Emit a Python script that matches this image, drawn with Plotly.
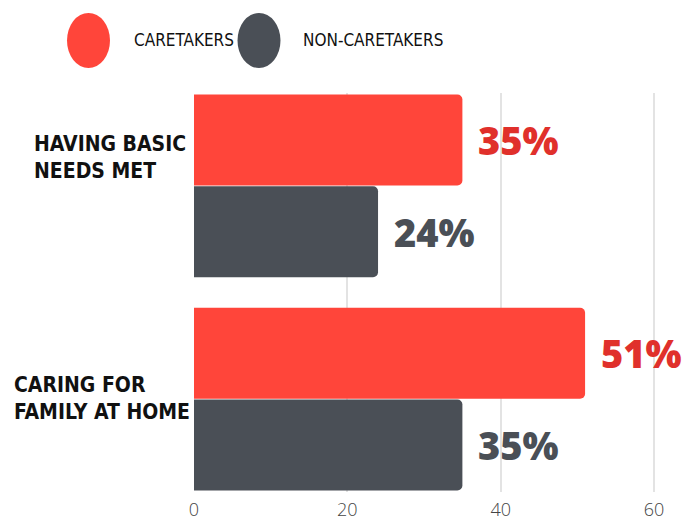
import plotly.graph_objects as go

# Survey results: share of respondents citing each item
categories = ["HAVING BASIC<br>NEEDS MET", "CARING FOR<br>FAMILY AT HOME"]
caretakers = [35, 51]
non_caretakers = [24, 35]
series_names = ["CARETAKERS", "NON-CARETAKERS"]
tick_values = [0, 20, 40, 60]

RED = "#FF453A"
RED_TEXT = "#E0302B"
GRAY = "#4A4F56"
NARROW = "DejaVu Sans Condensed, Roboto, sans-serif"

fig = go.Figure()
for name, vals, col in [(series_names[0], caretakers, RED), (series_names[1], non_caretakers, GRAY)]:
    fig.add_trace(go.Bar(
        y=categories, x=vals, name=name, orientation="h",
        marker=dict(color=col, cornerradius=5, line=dict(width=0)),
        showlegend=False,
    ))

# value labels just past the bar ends
label_font = dict(family="Open Sans", size=38, weight=800)
for i, cat in enumerate(categories):
    for vals, col, shift in [(caretakers, RED_TEXT, 46), (non_caretakers, GRAY, -46)]:
        fig.add_annotation(
            x=vals[i], y=cat, xref="x", yref="y", text=f"{vals[i]}%",
            showarrow=False, xanchor="left", yanchor="middle",
            xshift=14, yshift=shift, font=dict(color=col, **label_font),
        )

# category labels to the left of the plot area
cat_font = dict(family=NARROW, size=21, weight=700, color="#111111")
for cat, xs, ys in [(categories[0], -162, 28), (categories[1], -182, 1)]:
    fig.add_annotation(
        x=0, y=cat, xref="paper", yref="y", text=cat, showarrow=False,
        xanchor="left", yanchor="middle", align="left",
        xshift=xs, yshift=ys, font=cat_font,
    )

# custom legend with large dots
for name, col, cx, tx in [(series_names[0], RED, -105.5, -62), (series_names[1], GRAY, 65, 107)]:
    fig.add_shape(
        type="circle", xref="paper", yref="paper",
        xsizemode="pixel", ysizemode="pixel", xanchor=0, yanchor=1,
        x0=cx - 21.5, x1=cx + 21.5, y0=25, y1=80,
        fillcolor=col, line=dict(width=0),
    )
    fig.add_annotation(
        x=0, y=1, xref="paper", yref="paper", text=name, showarrow=False,
        xanchor="left", yanchor="middle", xshift=tx, yshift=53,
        font=dict(family=NARROW, size=17, color="#111111"),
    )

fig.update_layout(
    width=684, height=520,
    margin=dict(l=194, r=0, t=93, b=28),
    paper_bgcolor="white", plot_bgcolor="white",
    barmode="group", bargap=0.14, bargroupgap=0.008,
    showlegend=False,
    xaxis=dict(
        range=[0, 63.9], tickvals=tick_values, showgrid=True,
        gridcolor="#E3E3E3", gridwidth=1.5, zeroline=False, showline=False,
        tickfont=dict(family="Open Sans", size=18, weight=300, color="#444444"),
        ticks="", ticklabelstandoff=5, automargin=False,
    ),
    yaxis=dict(
        type="category", range=[1.435, -0.435], showticklabels=False,
        showgrid=False, zeroline=False, showline=False, automargin=False,
    ),
)

fig.write_html("out.html")
